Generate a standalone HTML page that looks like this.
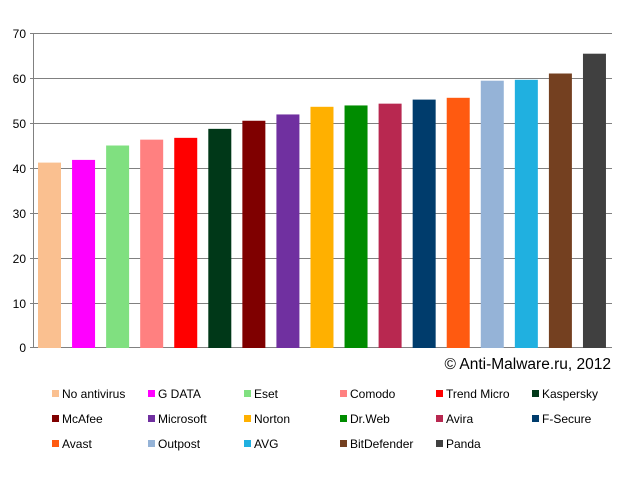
<!DOCTYPE html>
<html><head><style>body{margin:0;background:#fff}</style></head><body>
<svg width="621" height="478" xmlns="http://www.w3.org/2000/svg" font-family="Liberation Sans, sans-serif" font-size="12">
<g stroke="#808080" stroke-width="1">
<line x1="30" y1="33.5" x2="612" y2="33.5"/>
<line x1="30" y1="78.5" x2="612" y2="78.5"/>
<line x1="30" y1="123.5" x2="612" y2="123.5"/>
<line x1="30" y1="168.5" x2="612" y2="168.5"/>
<line x1="30" y1="213.5" x2="612" y2="213.5"/>
<line x1="30" y1="258.5" x2="612" y2="258.5"/>
<line x1="30" y1="303.5" x2="612" y2="303.5"/>
<line x1="30" y1="347.5" x2="612" y2="347.5"/>
<line x1="33.5" y1="33" x2="33.5" y2="348"/>
</g>
<g text-anchor="end" fill="#000">
<text x="26" y="38">70</text><text x="26" y="83">60</text><text x="26" y="128">50</text>
<text x="26" y="173">40</text><text x="26" y="218">30</text><text x="26" y="263">20</text>
<text x="26" y="308">10</text><text x="26" y="352">0</text>
</g>
<g id="bars"></g>
<text x="611" y="369" text-anchor="end" font-size="15.5">© Anti-Malware.ru, 2012</text>
<g id="leg"></g>
<script>
var d=[["No antivirus",41.2,"#fac090"],["G DATA",41.8,"#ff00ff"],["Eset",45,"#80e080"],["Comodo",46.3,"#ff8080"],["Trend Micro",46.7,"#ff0000"],["Kaspersky",48.7,"#003818"],["McAfee",50.5,"#7f0000"],["Microsoft",51.9,"#7030a0"],["Norton",53.6,"#ffb000"],["Dr.Web",53.9,"#008c00"],["Avira",54.3,"#b82850"],["F-Secure",55.2,"#003c6c"],["Avast",55.6,"#ff5a10"],["Outpost",59.4,"#95b3d7"],["AVG",59.6,"#20b0e0"],["BitDefender",61,"#744020"],["Panda",65.4,"#404040"]];
var ns="http://www.w3.org/2000/svg",b=document.getElementById("bars"),l=document.getElementById("leg");
d.forEach(function(e,i){var h=e[1]*4.5,x=38+i*34.06;var r=document.createElementNS(ns,"rect");r.setAttribute("x",x);r.setAttribute("y",348-h);r.setAttribute("width",23);r.setAttribute("height",h);r.setAttribute("fill",e[2]);b.appendChild(r);
var c=i%6,rw=Math.floor(i/6),lx=52+c*96,ly=394+rw*25;var s=document.createElementNS(ns,"rect");s.setAttribute("x",lx);s.setAttribute("y",ly-4);s.setAttribute("width",7);s.setAttribute("height",7);s.setAttribute("fill",e[2]);l.appendChild(s);
var t=document.createElementNS(ns,"text");t.setAttribute("x",lx+10);t.setAttribute("y",ly+4);t.textContent=e[0];l.appendChild(t);});
</script>
</svg>
</body></html>
